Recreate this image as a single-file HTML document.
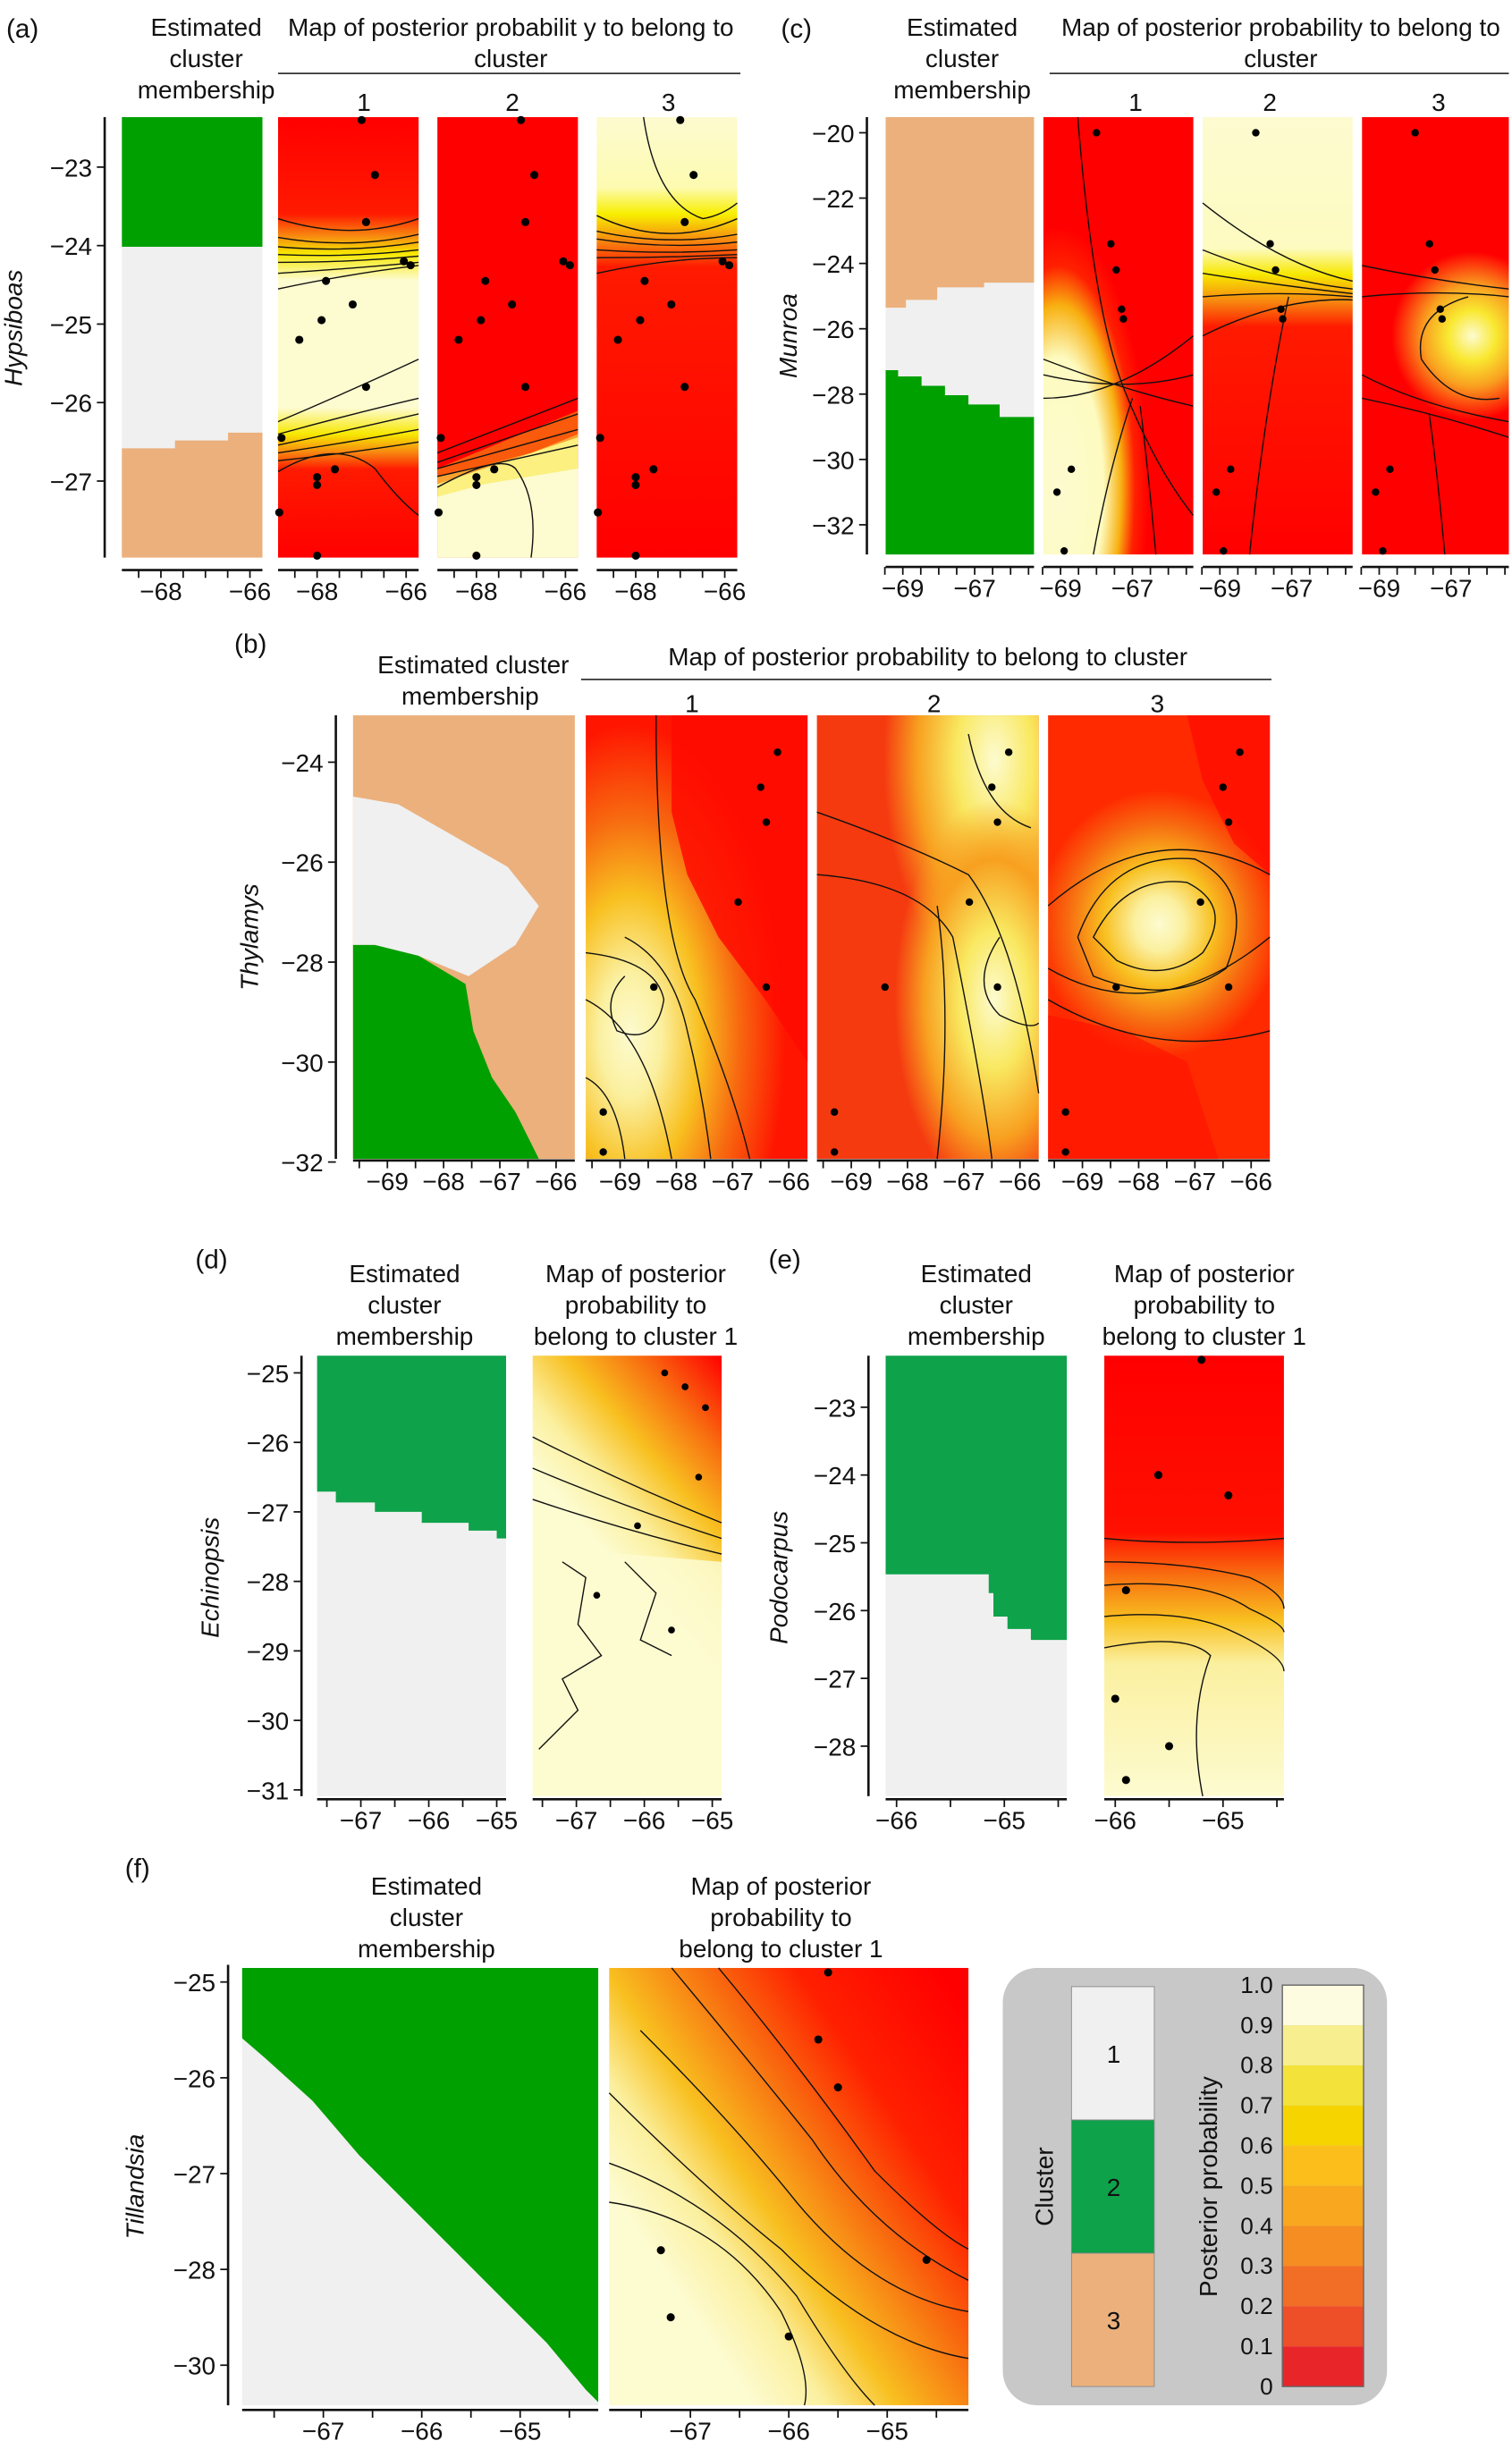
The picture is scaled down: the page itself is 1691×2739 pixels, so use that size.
<!DOCTYPE html>
<html><head><meta charset="utf-8"><style>
html,body{margin:0;padding:0;background:#fff}
svg{display:block}
text{font-family:"Liberation Sans",Arial,sans-serif;fill:#111}
</style></head><body>
<svg id="fig" width="1691" height="2739" viewBox="0 0 968 1568" xmlns="http://www.w3.org/2000/svg">
<defs>
<linearGradient id="ga1" x1="0" y1="0" x2="0" y2="1">
<stop offset="0" stop-color="#ff0000"/><stop offset="0.22" stop-color="#ff1a00"/><stop offset="0.27" stop-color="#f78a10"/><stop offset="0.31" stop-color="#f7e800"/><stop offset="0.37" stop-color="#fdfbd0"/><stop offset="0.66" stop-color="#fdfbd0"/><stop offset="0.72" stop-color="#f7e800"/><stop offset="0.76" stop-color="#f78a10"/><stop offset="0.8" stop-color="#ff1a00"/><stop offset="1" stop-color="#ff0000"/></linearGradient>
<linearGradient id="ga3" x1="0" y1="0" x2="0" y2="1">
<stop offset="0" stop-color="#fdfbd0"/><stop offset="0.16" stop-color="#fdfbb0"/><stop offset="0.22" stop-color="#f7ef00"/><stop offset="0.28" stop-color="#f78a10"/><stop offset="0.34" stop-color="#ff1a00"/><stop offset="1" stop-color="#ff0000"/></linearGradient>
<linearGradient id="gc2" x1="0" y1="0" x2="0" y2="1">
<stop offset="0" stop-color="#fdfbd0"/><stop offset="0.3" stop-color="#fdfbc0"/><stop offset="0.36" stop-color="#f7e800"/><stop offset="0.42" stop-color="#f78a10"/><stop offset="0.48" stop-color="#ff1a00"/><stop offset="1" stop-color="#ff0000"/></linearGradient>
<radialGradient id="gc3" cx="0.75" cy="0.5" r="0.55" gradientTransform="translate(0,0.5) scale(1,0.35) translate(0,-0.5)">
<stop offset="0" stop-color="#fdfbd0"/><stop offset="0.3" stop-color="#f9e830"/><stop offset="0.6" stop-color="#f9a020"/><stop offset="1" stop-color="#ff0000"/></radialGradient>
<radialGradient id="gc1" cx="0.1" cy="0.85" r="0.6">
<stop offset="0" stop-color="#fdfbd0"/><stop offset="0.5" stop-color="#fdfbc0"/><stop offset="0.7" stop-color="#f8b010"/><stop offset="0.85" stop-color="#ff2000"/><stop offset="1" stop-color="#ff0000"/></radialGradient>
<radialGradient id="gb1" cx="0.2" cy="0.72" r="0.7">
<stop offset="0" stop-color="#fdfbd0"/><stop offset="0.2" stop-color="#fbf0a0"/><stop offset="0.45" stop-color="#f8c020"/><stop offset="0.7" stop-color="#f76a10"/><stop offset="1" stop-color="#ff1500"/></radialGradient>
<radialGradient id="gb2a" cx="0.8" cy="0.1" r="0.5">
<stop offset="0" stop-color="#fdfbd0"/><stop offset="0.35" stop-color="#f9e860"/><stop offset="0.7" stop-color="#f8a020"/><stop offset="1" stop-color="#f8a020" stop-opacity="0"/></radialGradient>
<radialGradient id="gb2b" cx="0.8" cy="0.64" r="0.45">
<stop offset="0" stop-color="#fdfbd0"/><stop offset="0.35" stop-color="#f9e860"/><stop offset="0.7" stop-color="#f8a020"/><stop offset="1" stop-color="#f8a020" stop-opacity="0"/></radialGradient>
<radialGradient id="gb3" cx="0.5" cy="0.47" r="0.55" gradientTransform="translate(0.5,0.47) scale(1,0.55) translate(-0.5,-0.47)">
<stop offset="0" stop-color="#fdfbd0"/><stop offset="0.2" stop-color="#fbf0a0"/><stop offset="0.45" stop-color="#f8c020"/><stop offset="0.75" stop-color="#f76a10"/><stop offset="1" stop-color="#ff2a00"/></radialGradient>
<linearGradient id="gd" x1="1" y1="0" x2="0.7" y2="0.6">
<stop offset="0" stop-color="#ff0000"/><stop offset="0.3" stop-color="#f87010"/><stop offset="0.55" stop-color="#f8c020"/><stop offset="0.8" stop-color="#fbf0a0"/><stop offset="1" stop-color="#fdfbd0"/></linearGradient>
<linearGradient id="ge" x1="0" y1="0" x2="0" y2="1">
<stop offset="0" stop-color="#ff0000"/><stop offset="0.4" stop-color="#ff1000"/><stop offset="0.5" stop-color="#f87010"/><stop offset="0.6" stop-color="#f8c020"/><stop offset="0.7" stop-color="#fbf0a0"/><stop offset="1" stop-color="#fdfbd0"/></linearGradient>
<linearGradient id="gf" x1="1" y1="0.1" x2="0.2" y2="0.75">
<stop offset="0" stop-color="#ff0000"/><stop offset="0.3" stop-color="#ff2000"/><stop offset="0.5" stop-color="#f87010"/><stop offset="0.7" stop-color="#f8c020"/><stop offset="0.85" stop-color="#fbf0a0"/><stop offset="1" stop-color="#fdfbd0"/></linearGradient>
</defs>

<text x="4" y="24" font-size="17">(a)</text>
<text x="500" y="24" font-size="17">(c)</text>
<text x="150" y="418" font-size="17">(b)</text>
<text x="125" y="812" font-size="17">(d)</text>
<text x="492" y="812" font-size="17">(e)</text>
<text x="80" y="1202" font-size="17">(f)</text>

<g font-size="16" text-anchor="middle">
<text x="132" y="23">Estimated</text><text x="132" y="43">cluster</text><text x="132" y="63">membership</text>
<text x="327" y="23">Map of posterior probabilit y to belong to</text><text x="327" y="43">cluster</text>
<line x1="178" y1="47" x2="474" y2="47" stroke="#333" stroke-width="1"/>
<text x="616" y="23">Estimated</text><text x="616" y="43">cluster</text><text x="616" y="63">membership</text>
<text x="820" y="23">Map of posterior probability to belong to</text><text x="820" y="43">cluster</text>
<line x1="672" y1="47" x2="966" y2="47" stroke="#333" stroke-width="1"/>
<text x="303" y="431">Estimated cluster</text><text x="301" y="451">membership</text>
<text x="594" y="426">Map of posterior probability to belong to cluster</text>
<line x1="372" y1="435" x2="814" y2="435" stroke="#333" stroke-width="1"/>
<text x="259" y="821">Estimated</text><text x="259" y="841">cluster</text><text x="259" y="861">membership</text>
<text x="407" y="821">Map of posterior</text><text x="407" y="841">probability to</text><text x="407" y="861">belong to cluster 1</text>
<text x="625" y="821">Estimated</text><text x="625" y="841">cluster</text><text x="625" y="861">membership</text>
<text x="771" y="821">Map of posterior</text><text x="771" y="841">probability to</text><text x="771" y="861">belong to cluster 1</text>
<text x="273" y="1213">Estimated</text><text x="273" y="1233">cluster</text><text x="273" y="1253">membership</text>
<text x="500" y="1213">Map of posterior</text><text x="500" y="1233">probability to</text><text x="500" y="1253">belong to cluster 1</text>
</g>
<g font-size="16" text-anchor="middle">
<text x="233" y="71">1</text><text x="328" y="71">2</text><text x="428" y="71">3</text>
<text x="727" y="71">1</text><text x="813" y="71">2</text><text x="921" y="71">3</text>
<text x="443" y="456">1</text><text x="598" y="456">2</text><text x="741" y="456">3</text>
</g>

<g>
<rect x="78" y="75" width="90" height="83" fill="#00a000"/>
<rect x="78" y="158" width="90" height="199" fill="#f0f0f0"/>
<path d="M78 287 H112 V282 H146 V277 H168 V357 H78Z" fill="#ebb07c"/>
</g>
<g>
<rect x="567" y="75" width="95" height="280" fill="#f0f0f0"/>
<path d="M567 75 H662 V181 H630 V184 H600 V192 H580 V197 H567Z" fill="#ebb07c"/>
<path d="M567 237 H575 V241 H590 V247 H605 V253 H620 V259 H640 V267 H662 V355 H567Z" fill="#00a000"/>
</g>
<g>
<rect x="226" y="458" width="142" height="284" fill="#ebb07c"/>
<path d="M226 510 L255 515 L290 535 L325 555 L345 580 L330 605 L300 625 L268 612 L240 605 L226 605Z" fill="#f0f0f0"/>
<path d="M226 605 L240 605 L268 612 L298 630 L303 660 L315 690 L330 712 L345 742 L226 742Z" fill="#00a000"/>
</g>
<g>
<rect x="203" y="868" width="121" height="282" fill="#f0f0f0"/>
<path d="M203 868 H324 V985 H318 V980 H300 V975 H270 V968 H240 V962 H215 V955 H203Z" fill="#0ea24a"/>
</g>
<g>
<rect x="567" y="868" width="116" height="282" fill="#f0f0f0"/>
<path d="M567 868 H683 V1050 H660 V1043 H645 V1035 H636 V1020 H633 V1008 H567Z" fill="#0ea24a"/>
</g>
<g>
<rect x="155" y="1260" width="228" height="280" fill="#f0f0f0"/>
<path d="M155 1260 H383 V1538 L375 1530 L350 1500 L320 1470 L290 1440 L260 1410 L230 1380 L200 1345 L170 1318 L155 1305Z" fill="#00a000"/>
</g>

<g><rect x="178" y="75" width="90" height="282" fill="url(#ga1)"/></g>
<g><rect x="280" y="75" width="90" height="282" fill="#ff0000"/>
<path d="M280 305 L310 298 L340 290 L370 278 V357 H280Z" fill="#fbf080"/><path d="M280 318 L310 310 L340 305 L370 300 V357 H280Z" fill="#fdfbd0"/>
<path d="M280 300 L370 263 V280 L280 310Z" fill="#f88010" opacity="0.7"/></g>
<g><rect x="382" y="75" width="90" height="282" fill="url(#ga3)"/></g>
<g><rect x="668" y="75" width="96" height="280" fill="url(#gc1)"/></g>
<g><rect x="770" y="75" width="96" height="280" fill="url(#gc2)"/></g>
<g><rect x="872" y="75" width="94" height="280" fill="url(#gc3)"/></g>
<g><rect x="375" y="458" width="142" height="284" fill="url(#gb1)"/>
<path d="M430 458 H517 V680 L490 640 L460 600 L440 560 L430 520Z" fill="#ff0a00" opacity="0.85"/></g>
<g><rect x="523" y="458" width="142" height="284" fill="#f53a10"/>
<rect x="523" y="458" width="142" height="284" fill="url(#gb2a)"/><rect x="523" y="458" width="142" height="284" fill="url(#gb2b)"/></g>
<g><rect x="671" y="458" width="142" height="284" fill="url(#gb3)"/>
<path d="M760 458 H813 V560 L790 540 L770 500Z" fill="#ff0a00" opacity="0.7"/><path d="M671 650 L720 660 L760 680 L780 742 H671Z" fill="#ff1000" opacity="0.6"/></g>
<g><rect x="341" y="868" width="121" height="282" fill="url(#gd)"/>
<path d="M341 990 L400 995 L462 1000 V1150 H341Z" fill="#fdfbd0" opacity="0.85"/></g>
<g><rect x="707" y="868" width="115" height="282" fill="url(#ge)"/></g>
<g><rect x="390" y="1260" width="230" height="280" fill="url(#gf)"/></g>

<g fill="none" stroke="#111" stroke-width="0.8">
<path d="M178 140 Q225 155 268 140"/><path d="M178 152 Q225 160 268 150"/><path d="M178 158 Q225 162 268 155"/><path d="M178 163 Q225 165 268 160"/><path d="M178 168 Q225 168 268 164"/><path d="M178 175 Q225 172 268 168"/><path d="M178 185 Q225 175 268 170"/>
<path d="M178 270 Q225 250 268 230"/><path d="M178 278 Q225 265 268 255"/><path d="M178 285 Q225 275 268 265"/><path d="M178 290 Q225 283 268 275"/><path d="M178 295 Q225 290 268 283"/><path d="M178 302 Q215 280 240 300 Q255 320 268 330"/>
<path d="M280 290 L370 255"/><path d="M280 296 L370 265"/><path d="M280 300 L370 275"/><path d="M280 305 L370 285"/><path d="M280 312 Q320 290 330 300 Q345 320 340 357"/>
<path d="M382 138 Q427 160 472 140"/><path d="M382 148 Q427 158 472 150"/><path d="M382 153 Q427 160 472 155"/><path d="M382 160 Q427 163 472 160"/><path d="M382 165 Q427 165 472 163"/><path d="M382 175 Q427 165 472 165"/><path d="M412 75 Q420 130 450 140 Q462 138 472 130"/>
<path d="M690 75 Q700 200 720 250 Q740 300 764 330"/><path d="M668 230 Q720 250 764 260"/><path d="M668 240 Q720 252 764 240"/><path d="M668 255 Q715 255 764 215"/><path d="M700 355 Q710 300 725 255"/><path d="M740 355 Q735 300 730 260"/>
<path d="M770 130 Q820 170 866 180"/><path d="M770 160 Q820 180 866 185"/><path d="M770 175 Q820 183 866 188"/><path d="M770 190 Q820 186 866 190"/><path d="M770 215 Q820 190 866 192"/><path d="M800 355 Q810 260 825 190"/>
<path d="M872 170 Q920 180 966 185"/><path d="M872 190 Q920 185 966 190"/><path d="M872 240 Q910 260 966 270"/><path d="M872 255 Q920 265 966 280"/><path d="M940 190 Q905 200 910 230 Q930 260 960 255"/><path d="M925 355 Q920 300 915 265"/>
<path d="M420 458 Q420 600 445 640 Q470 700 480 742"/><path d="M400 600 Q430 615 440 660 Q450 700 455 742"/><path d="M375 610 Q420 615 425 640 Q420 670 395 660 Q385 640 400 625"/><path d="M375 640 Q415 660 430 742"/><path d="M375 690 Q395 700 400 742"/>
<path d="M523 520 Q580 540 620 560 Q650 600 665 700"/><path d="M523 560 Q590 565 610 600 Q630 700 635 742"/><path d="M620 470 Q630 520 660 530"/><path d="M640 600 Q620 630 640 650 Q660 660 665 655"/><path d="M600 580 Q610 650 600 742"/>
<path d="M700 600 Q720 560 760 565 Q790 580 770 610 Q745 630 715 615Z"/><path d="M690 600 Q710 545 765 550 Q805 570 785 620 Q750 645 700 625Z"/><path d="M671 620 Q740 660 813 600"/><path d="M671 580 Q740 520 813 560"/><path d="M671 640 Q740 680 813 660"/>
<path d="M341 920 Q400 950 462 975"/><path d="M341 940 Q400 965 462 985"/><path d="M341 960 Q400 980 462 995"/><path d="M360 1000 L375 1010 L370 1040 L385 1060 L360 1075 L370 1095 L345 1120"/><path d="M400 1000 L420 1020 L410 1050 L430 1060"/>
<path d="M707 985 Q760 990 822 985"/><path d="M707 1000 Q760 1000 800 1010 Q822 1020 822 1030"/><path d="M707 1015 Q770 1010 800 1030 Q822 1040 822 1045"/><path d="M707 1035 Q760 1030 790 1045 Q822 1060 822 1070"/><path d="M707 1055 Q760 1045 775 1060 Q760 1100 770 1150"/>
<path d="M430 1260 Q480 1320 520 1370 Q560 1430 620 1460"/><path d="M410 1300 Q470 1360 510 1410 Q560 1470 620 1480"/><path d="M390 1340 Q450 1400 500 1440 Q560 1500 620 1510"/><path d="M390 1385 Q460 1410 510 1470 Q540 1520 560 1540"/><path d="M390 1410 Q460 1420 500 1480 Q520 1520 515 1540"/><path d="M460 1260 Q510 1320 560 1390 Q600 1430 620 1440"/>
</g>

<g>
<rect x="642" y="1260" width="246" height="280" rx="22" fill="#c8c8c8"/>
<text x="674" y="1400" font-size="16" text-anchor="middle" transform="rotate(-90 674 1400)">Cluster</text>
<text x="779" y="1400" font-size="16" text-anchor="middle" transform="rotate(-90 779 1400)">Posterior probability</text>
<g id="legendCluster"></g><g id="legendProb"></g>
</g>
<g id="axes"></g><g id="points"></g>
</svg>
<script>
const NS="http://www.w3.org/2000/svg";
const svg=document.getElementById('fig');
const clusterLabels=["1","2","3"];
const clusterColors=["#f0f0f0","#0ea24a","#ebb07c"];
const probTicks=[1.0,0.9,0.8,0.7,0.6,0.5,0.4,0.3,0.2,0.1,0];
const probBandColors=["#fdfbe0","#f7ef8f","#f2e23a","#f5d400","#fbbe1a","#f9a71f","#f58d22","#f26d26","#ee4e28","#e8262a"];
const yTicksA=[-23,-24,-25,-26,-27];
const xTicksA=[-68,-66];
const yTicksC=[-20,-22,-24,-26,-28,-30,-32];
const xTicksC=[-69,-67];
const yTicksB=[-24,-26,-28,-30,-32];
const xTicksB=[-69,-68,-67,-66];
const yTicksD=[-25,-26,-27,-28,-29,-30,-31];
const xTicksD=[-67,-66,-65];
const yTicksE=[-23,-24,-25,-26,-27,-28];
const xTicksE=[-66,-65];
const yTicksF=[-25,-26,-27,-28,-29];
const yTickLabelsF=["-25","-26","-27","-28","-30"];
const xTicksF=[-67,-66,-65];
const ptsALon=[-67.0,-66.7,-66.9,-66.05,-65.9,-67.8,-67.2,-67.9,-68.4,-66.9,-68.8,-68.0,-68.0,-67.6,-68.85,-68.0];
const ptsALat=[-22.4,-23.1,-23.7,-24.2,-24.25,-24.45,-24.75,-24.95,-25.2,-25.8,-26.45,-26.95,-27.05,-26.85,-27.4,-27.95];
const ptsCLon=[-68.0,-67.6,-67.45,-67.3,-67.25,-68.7,-69.1,-68.9];
const ptsCLat=[-20.0,-23.4,-24.2,-25.4,-25.7,-30.3,-31.0,-32.8];
const ptsBLon=[-66.2,-66.5,-66.4,-66.9,-66.4,-68.4,-69.3,-69.3];
const ptsBLat=[-23.8,-24.5,-25.2,-26.8,-28.5,-28.5,-31.0,-31.8];
const ptsDLon=[-65.7,-65.4,-65.1,-65.2,-66.1,-66.7,-65.6];
const ptsDLat=[-25.0,-25.2,-25.5,-26.5,-27.2,-28.2,-28.7];
const ptsELon=[-65.2,-65.6,-65.9,-64.95,-66.0,-65.5,-65.9];
const ptsELat=[-22.3,-24.0,-25.7,-24.3,-27.3,-28.0,-28.5];
const ptsFLon=[-65.6,-65.7,-65.5,-67.3,-67.2,-66.0,-64.6];
const ptsFLat=[-24.9,-25.6,-26.1,-27.8,-28.5,-28.7,-27.9];

function el(tag,attrs,parent){const e=document.createElementNS(NS,tag);for(const k in attrs)e.setAttribute(k,attrs[k]);(parent||svg).appendChild(e);return e;}
function lin(d0,d1,r0,r1){return v=>r0+(v-d0)*(r1-r0)/(d1-d0);}
const axes=document.getElementById('axes');
function fmt(t){return '\u2212'+Math.abs(t);}
function yAxis(x,y0,y1,ticks,sc,name,lbx,lby,labels){
  const l=el('line',{x1:x,y1:y0,x2:x,y2:y1,stroke:'#111','stroke-width':1.5},axes);
  
  
  ticks.forEach((t,i)=>{const y=sc(t);
    el('line',{x1:x-5,y1:y,x2:x,y2:y,stroke:'#111','stroke-width':1},axes);
    const tx=el('text',{x:x-8,y:y+6,'font-size':16,'text-anchor':'end'},axes);
    tx.textContent=labels?labels[i].replace('-','\u2212'):fmt(t);
    
    });
  const tl=el('text',{x:lbx,y:lby,'font-size':16,'font-style':'italic','text-anchor':'middle',transform:`rotate(-90 ${lbx} ${lby})`},axes);
  tl.textContent=name.charAt(0).toUpperCase()+name.slice(1);
  
  
}
function xAxis(x0,x1,y,ticks,sc,minor){
  el('line',{x1:x0,y1:y,x2:x1,y2:y,stroke:'#111','stroke-width':1.5},axes);
  minor.forEach(t=>{el('line',{x1:sc(t),y1:y,x2:sc(t),y2:y+5,stroke:'#111','stroke-width':1},axes);});
  ticks.forEach(t=>{const tx=el('text',{x:sc(t),y:y+19,'font-size':16,'text-anchor':'middle'},axes);tx.textContent=fmt(t);
    
    });
}
function range(a,b,s){const r=[];for(let v=a;v<=b+1e-9;v+=s)r.push(v);return r;}
function dots(lons,lats,xs,ys,r,name){
  const g=document.getElementById('points');
  lons.forEach((lo,i)=>{const c=el('circle',{cx:xs(lo),cy:ys(lats[i]),r:r,fill:'#000'},g);
    
    });
}
const yA=lin(-23,-27,107,308);
yAxis(67,75,357,yTicksA,yA,'hypsiboas',14,210);
[[78,168],[178,268],[280,370],[382,472]].forEach((p,i)=>{const xs=lin(-68,-66,p[0]+25,p[0]+82);xAxis(p[0],p[1],365,xTicksA,xs,range(-69,-66,0.5).filter(v=>xs(v)>=p[0]-1&&xs(v)<=p[1]+1));if(i>0)dots(ptsALon,ptsALat,xs,yA,2.6,'a'+i);});
const yC=lin(-20,-32,85,336);
yAxis(555,75,355,yTicksC,yC,'munroa',510,215);
[[567,662],[668,764],[770,866],[872,966]].forEach((p,i)=>{const xs=lin(-69,-67,p[0]+11,p[0]+57);xAxis(p[0],p[1],363,xTicksC,xs,range(-69.5,-65.5,0.5).filter(v=>xs(v)>=p[0]-1&&xs(v)<=p[1]+1));if(i>0)dots(ptsCLon,ptsCLat,xs,yC,2.4,'c'+i);});
const yB=lin(-24,-32,488,744);
yAxis(215,458,742,yTicksB,yB,'thylamys',165,600);
[[226,368],[375,517],[523,665],[671,813]].forEach((p,i)=>{const xs=lin(-69,-66,p[0]+22,p[0]+130);xAxis(p[0],p[1],743,xTicksB,xs,range(-69.5,-65.5,0.5).filter(v=>xs(v)>=p[0]-1&&xs(v)<=p[1]+1));if(i>0)dots(ptsBLon,ptsBLat,xs,yB,2.4,'b'+i);});
const yD=lin(-25,-31,879,1146);
yAxis(193,868,1150,yTicksD,yD,'echinopsis',140,1010);
[[203,324],[341,462]].forEach((p,i)=>{const xs=lin(-67,-65,p[0]+28,p[0]+115);xAxis(p[0],p[1],1152,xTicksD,xs,range(-67.5,-64.5,0.5).filter(v=>xs(v)>=p[0]-1&&xs(v)<=p[1]+1));if(i>0)dots(ptsDLon,ptsDLat,xs,yD,2.2,'d');});
const yE=lin(-23,-28,901,1118);
yAxis(556,868,1150,yTicksE,yE,'podocarpus',504,1010);
[[567,683],[707,822]].forEach((p,i)=>{const xs=lin(-66,-65,p[0]+7,p[0]+76);xAxis(p[0],p[1],1152,xTicksE,xs,range(-66,-64.5,0.5).filter(v=>xs(v)>=p[0]-1&&xs(v)<=p[1]+1));if(i>0)dots(ptsELon,ptsELat,xs,yE,2.6,'e');});
const yF=lin(-25,-28,1269,1453);
yAxis(146,1258,1540,yTicksF,yF,'tillandsia',92,1400,yTickLabelsF);
[[155,383],[390,620]].forEach((p,i)=>{const xs=lin(-67,-65,p[0]+52,p[0]+178);xAxis(p[0],p[1],1543,xTicksF,xs,range(-67.5,-64.5,0.5).filter(v=>xs(v)>=p[0]-1&&xs(v)<=p[1]+1));if(i>0)dots(ptsFLon,ptsFLat,xs,yF,2.6,'f');});
const lc=document.getElementById('legendCluster');
const ch=(1528-1272)/clusterLabels.length;
clusterLabels.forEach((c,i)=>{const r=el('rect',{x:686,y:1272+i*ch,width:53,height:ch,fill:clusterColors[i],stroke:'#888','stroke-width':0.5},lc);
  
  
  const t=el('text',{x:713,y:1272+i*ch+ch/2+6,'font-size':16,'text-anchor':'middle'},lc);t.textContent=c;});
const lp=document.getElementById('legendProb');
const ps=lin(1,0,1271,1528);
probBandColors.forEach((col,i)=>{const r=el('rect',{x:821,y:ps(probTicks[i]),width:52,height:ps(probTicks[i+1])-ps(probTicks[i]),fill:col},lp);
  
  });
el('rect',{x:821,y:1271,width:52,height:257,fill:'none',stroke:'#666','stroke-width':0.8},lp);
probTicks.forEach(t=>{const tx=el('text',{x:815,y:ps(t)+5,'font-size':15,'text-anchor':'end'},lp);tx.textContent=t===0?'0':t.toFixed(1);
  
  });
</script>
</body></html>
